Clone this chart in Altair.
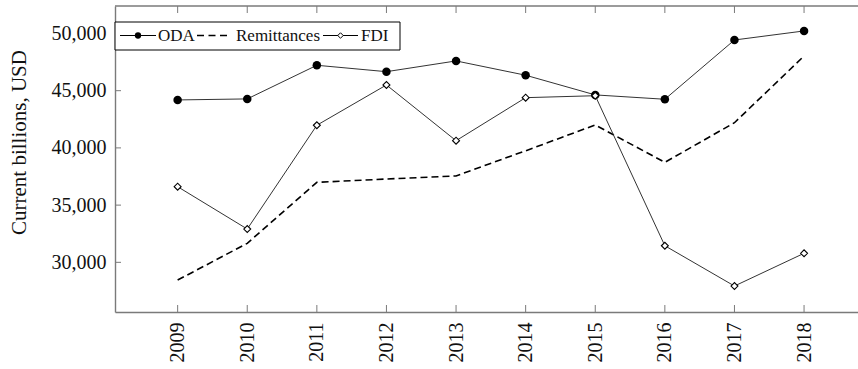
import altair as alt
import pandas as pd

# Annual flows, current billions USD
years = [2009, 2010, 2011, 2012, 2013, 2014, 2015, 2016, 2017, 2018]
oda = [44190, 44280, 47220, 46660, 47600, 46350, 44630, 44250, 49430, 50220]
remittances = [28450, 31660, 36990, 37280, 37550, 39750, 42000, 38740, 42200, 48030]
fdi = [36610, 32910, 41980, 45500, 40630, 44390, 44560, 31450, 27930, 30790]
y_ticks = [30000, 35000, 40000, 45000, 50000]

W, H = 743, 306
FONT = "Liberation Serif"
FRAME = "#7a7a7a"

df = pd.DataFrame({"year": years, "ODA": oda, "Remittances": remittances, "FDI": fdi})
xt = pd.DataFrame({"year": years})
yt = pd.DataFrame({"v": y_ticks})
one = pd.DataFrame({"k": [0]})

x_scale = alt.Scale(domain=[2008.1, 2018.775], nice=False, zero=False)
y_scale = alt.Scale(domain=[25660, 52400], nice=False, zero=False)

x_axis = alt.Axis(
    values=years, format="d", labelAngle=-90, labelPadding=10, ticks=False,
    grid=False, title=None, domainColor=FRAME, domainWidth=1.4,
    labelFont=FONT, labelFontSize=20, labelColor="#111",
)
y_axis = alt.Axis(
    values=y_ticks, format=",d", labelPadding=9, ticks=False, grid=False,
    title="Current billions, USD", titleFont=FONT, titleFontSize=21,
    titleFontWeight="normal", titleColor="#111", titleX=-96, titleY=136,
    titleAlign="center", titleBaseline="middle", titleAngle=-90,
    domainColor=FRAME, domainWidth=1.4,
    labelFont=FONT, labelFontSize=20, labelColor="#111",
)

X = alt.X("year:Q", scale=x_scale, axis=x_axis)


def Y(field):
    return alt.Y(f"{field}:Q", scale=y_scale, axis=y_axis)


base = alt.Chart(df)

oda_line = base.mark_line(color="#333", strokeWidth=1).encode(x=X, y=Y("ODA"))
oda_pts = base.mark_point(shape="circle", filled=True, color="black", size=72, opacity=1).encode(
    x=X, y=Y("ODA")
)
rem_line = base.mark_line(color="black", strokeWidth=1.6, strokeDash=[7, 4]).encode(
    x=X, y=Y("Remittances")
)
fdi_line = base.mark_line(color="#333", strokeWidth=1).encode(x=X, y=Y("FDI"))
fdi_pts = base.mark_point(
    shape="diamond", filled=True, fill="white", stroke="black", strokeWidth=1.1, size=48, opacity=1
).encode(x=X, y=Y("FDI"))

# Inward-pointing ticks on the bottom, top and left edges of the frame
x_ticks_bottom = alt.Chart(xt).mark_rule(color=FRAME, strokeWidth=1).encode(
    x=X, y=alt.value(H), y2=alt.value(H - 7)
)
x_ticks_top = alt.Chart(xt).mark_rule(color=FRAME, strokeWidth=1).encode(
    x=X, y=alt.value(0), y2=alt.value(7)
)
y_ticks_left = alt.Chart(yt).mark_rule(color=FRAME, strokeWidth=1).encode(
    y=Y("v"), x=alt.value(0), x2=alt.value(6)
)
top_border = alt.Chart(one).mark_rule(color=FRAME, strokeWidth=1.4).encode(
    x=alt.value(0), x2=alt.value(W), y=alt.value(0)
)

# Legend box in the upper-left corner
LY = 29.5
legend_box = alt.Chart(one).mark_rect(fill="white", stroke="black", strokeWidth=1).encode(
    x=alt.value(0), x2=alt.value(285), y=alt.value(16), y2=alt.value(44)
)
leg_oda_line = alt.Chart(one).mark_rule(color="black", strokeWidth=1).encode(
    x=alt.value(5), x2=alt.value(41), y=alt.value(LY)
)
leg_oda_dot = alt.Chart(one).mark_point(shape="circle", filled=True, color="black", size=40, opacity=1).encode(
    x=alt.value(23), y=alt.value(LY)
)
leg_rem_line = alt.Chart(one).mark_rule(color="black", strokeWidth=1.6, strokeDash=[7, 4.5]).encode(
    x=alt.value(82), x2=alt.value(113), y=alt.value(LY)
)
leg_fdi_line = alt.Chart(one).mark_rule(color="black", strokeWidth=1).encode(
    x=alt.value(208), x2=alt.value(243), y=alt.value(LY)
)
leg_fdi_dot = alt.Chart(one).mark_point(
    shape="diamond", filled=True, fill="white", stroke="black", strokeWidth=1, size=30, opacity=1
).encode(x=alt.value(225.5), y=alt.value(LY))


def leg_text(label, xpos):
    return alt.Chart(one).mark_text(
        text=label, font=FONT, fontSize=17, align="left", baseline="middle", color="#111"
    ).encode(x=alt.value(xpos), y=alt.value(LY))


chart = alt.layer(
    oda_line, oda_pts, rem_line, fdi_line, fdi_pts,
    x_ticks_bottom, x_ticks_top, y_ticks_left, top_border,
    legend_box, leg_oda_line, leg_oda_dot, leg_rem_line, leg_fdi_line, leg_fdi_dot,
    leg_text("ODA", 43), leg_text("Remittances", 121), leg_text("FDI", 246),
).properties(
    width=W, height=H,
    autosize=alt.AutoSizeParams(type="none"),
    padding={"left": 115, "top": 6, "right": 0, "bottom": 57},
    background="white",
).configure_view(stroke=None)

chart.save("out.html", embed_options={"renderer": "svg", "actions": False})
